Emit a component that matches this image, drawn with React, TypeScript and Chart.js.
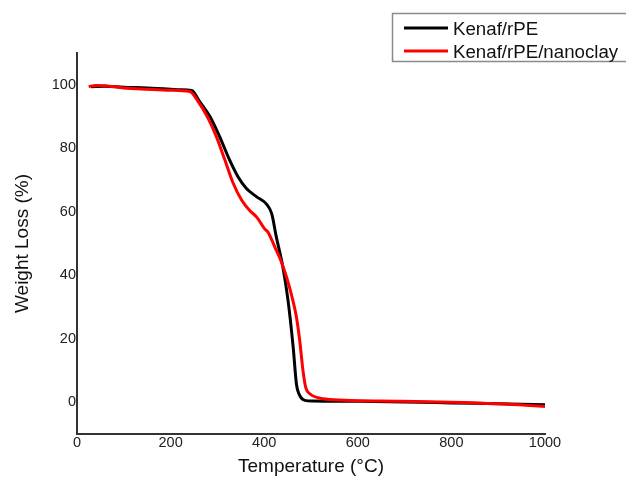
import React, { useEffect, useRef } from "react";
import { Chart, registerables } from "chart.js";

Chart.register(...registerables);

const seriesNames = ["Kenaf/rPE", "Kenaf/rPE/nanoclay"];
const seriesColors = ["#000000", "#ff0000"];

const tempKenaf = [30, 60, 100, 150, 200, 220, 245, 262, 284, 305, 326, 344, 362, 384, 405, 416, 426, 440, 451, 462, 469, 475, 487, 504, 600, 700, 800, 900, 1000];
const lossKenaf = [99.4, 99.5, 99.2, 99.0, 98.6, 98.4, 98.2, 94.7, 90.0, 83.6, 76.3, 71.0, 67.3, 64.7, 62.4, 59.4, 52.0, 42.5, 32.0, 17.2, 5.6, 2.4, 0.6, 0.4, 0.3, 0.1, -0.2, -0.5, -0.8];

const tempNano = [25, 40, 60, 100, 150, 200, 241, 259, 280, 298, 316, 334, 352, 369, 384, 401, 408, 423, 437, 448, 458, 469, 476, 483, 489, 498, 515, 540, 690, 800, 900, 1000];
const lossNano = [99.4, 99.8, 99.7, 99.0, 98.6, 98.3, 97.9, 94.7, 89.5, 83.6, 76.3, 68.9, 63.6, 60.4, 58.3, 54.6, 53.6, 48.8, 44.1, 39.3, 34.0, 26.7, 19.3, 9.8, 4.5, 2.6, 1.4, 0.85, 0.3, 0.0, -0.5, -1.3];

const xTicks = [0, 200, 400, 600, 800, 1000];
const yTicks = [0, 20, 40, 60, 80, 100];

const FONT = 'Arial, "Liberation Sans", sans-serif';

const legendPlugin = {
  id: "boxLegend",
  afterDraw(chart: any) {
    const ctx = chart.ctx;
    ctx.save();
    ctx.strokeStyle = "#8a8a8a";
    ctx.lineWidth = 1.5;
    ctx.strokeRect(392.5, 13.5, 250, 48);
    const rows = [28, 51];
    const bases = [34.5, 58];
    chart.data.datasets.forEach((ds: any, i: number) => {
      ctx.strokeStyle = ds.borderColor;
      ctx.lineWidth = 3;
      ctx.beginPath();
      ctx.moveTo(404, rows[i]);
      ctx.lineTo(448, rows[i]);
      ctx.stroke();
      ctx.fillStyle = "#111";
      ctx.font = `18.7px ${FONT}`;
      ctx.textBaseline = "alphabetic";
      ctx.textAlign = "left";
      ctx.fillText(ds.label, 453, bases[i]);
    });
    ctx.restore();
  },
};

export default function App() {
  const ref = useRef<HTMLCanvasElement>(null);
  useEffect(() => {
    if (!ref.current) return;
    const chart = new Chart(ref.current, {
      type: "line",
      data: {
        datasets: [
          {
            label: seriesNames[0],
            data: tempKenaf.map((t, i) => ({ x: t, y: lossKenaf[i] })),
            borderColor: seriesColors[0],
            borderWidth: 3,
            pointRadius: 0,
            cubicInterpolationMode: "monotone",
            fill: false,
            order: 2,
          },
          {
            label: seriesNames[1],
            data: tempNano.map((t, i) => ({ x: t, y: lossNano[i] })),
            borderColor: seriesColors[1],
            borderWidth: 3,
            pointRadius: 0,
            cubicInterpolationMode: "monotone",
            fill: false,
            order: 1,
          },
        ],
      },
      options: {
        responsive: false,
        animation: false,
        layout: { padding: { top: 53, right: 81, left: 0, bottom: 0 } },
        plugins: { legend: { display: false }, tooltip: { enabled: false } },
        scales: {
          x: {
            type: "linear",
            min: 0,
            max: 1000,
            afterBuildTicks: (axis: any) => {
              axis.ticks = xTicks.map((v) => ({ value: v }));
            },
            afterFit: (axis: any) => {
              axis.height = 44;
            },
            grid: { display: false, drawTicks: false, tickLength: 0 },
            border: { display: true, color: "#333", width: 2 },
            ticks: {
              padding: 0,
              color: "#222",
              font: { family: FONT, size: 14.5 },
              maxRotation: 0,
              callback: (v: any) => String(v),
            },
            title: {
              display: true,
              text: "Temperature (°C)",
              color: "#111",
              font: { family: FONT, size: 19 },
              padding: { top: 0, bottom: 0 },
            },
          },
          y: {
            type: "linear",
            min: -10,
            max: 110,
            afterBuildTicks: (axis: any) => {
              axis.ticks = yTicks.map((v) => ({ value: v }));
            },
            afterFit: (axis: any) => {
              axis.width = 77;
            },
            grid: { display: false, drawTicks: false, tickLength: 0 },
            border: { display: true, color: "#333", width: 2 },
            ticks: {
              padding: 1,
              color: "#222",
              font: { family: FONT, size: 14.5 },
              callback: (v: any) => String(v),
            },
            title: {
              display: true,
              text: "Weight Loss (%)",
              color: "#111",
              font: { family: FONT, size: 19 },
              padding: { top: 11, bottom: 0 },
            },
          },
        },
      },
      plugins: [legendPlugin],
    });
    return () => chart.destroy();
  }, []);
  return (
    <div style={{ position: "fixed", left: 0, top: 0, width: 626, height: 478, background: "#fff" }}>
      <canvas ref={ref} width={626} height={478} style={{ width: 626, height: 478, display: "block" }} />
    </div>
  );
}
